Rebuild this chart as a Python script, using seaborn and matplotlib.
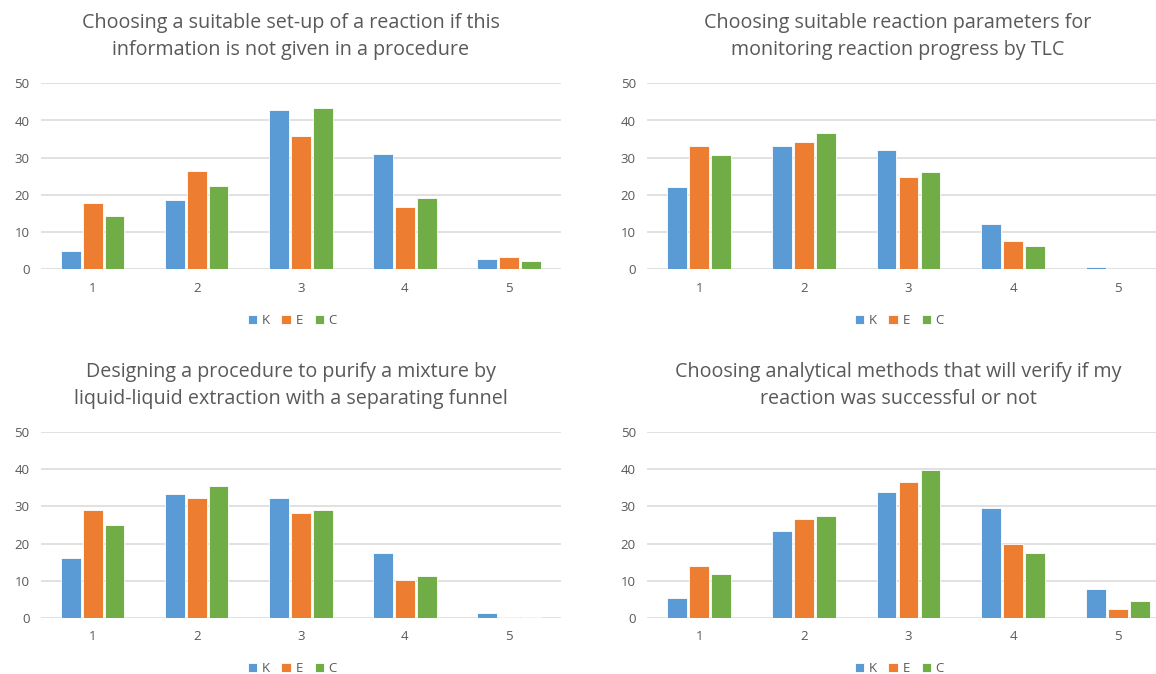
import matplotlib
matplotlib.use("Agg")
import matplotlib.pyplot as plt
import seaborn as sns
import pandas as pd

# Likert ratings 1-5 and the three student groups
ratings = ["1", "2", "3", "4", "5"]
groups = ["K", "E", "C"]

titles = [
    "Choosing a suitable set-up of a reaction if this\ninformation is not given in a procedure",
    "Choosing suitable reaction parameters for\nmonitoring reaction progress by TLC",
    "Designing a procedure to purify a mixture by\nliquid-liquid extraction with a separating funnel",
    "Choosing analytical methods that will verify if my\nreaction was successful or not",
]

# Percentages per rating for each group
setup_K = [5.0, 18.5, 42.8, 30.9, 2.9]
setup_E = [17.8, 26.4, 35.8, 16.8, 3.3]
setup_C = [14.3, 22.4, 43.3, 19.1, 2.2]

tlc_K = [22.2, 33.1, 32.1, 12.3, 0.6]
tlc_E = [33.2, 34.1, 24.9, 7.6, 0.2]
tlc_C = [30.7, 36.6, 26.2, 6.2, 0.2]

extraction_K = [16.0, 33.2, 32.2, 17.6, 1.25]
extraction_E = [28.9, 32.2, 28.2, 10.3, 0.27]
extraction_C = [24.9, 35.5, 29.1, 11.2, 0.36]

analysis_K = [5.4, 23.5, 33.9, 29.7, 7.9]
analysis_E = [14.1, 26.7, 36.6, 19.8, 2.5]
analysis_C = [11.8, 27.4, 39.9, 17.6, 4.6]

panels = [
    (setup_K, setup_E, setup_C),
    (tlc_K, tlc_E, tlc_C),
    (extraction_K, extraction_E, extraction_C),
    (analysis_K, analysis_E, analysis_C),
]

palette = {"K": "#5B9BD5", "E": "#ED7D31", "C": "#70AD47"}
text_gray = "#595959"
grid_gray = "#D9D9D9"

sns.set_theme(style="white")
plt.rcParams["font.family"] = ["Open Sans", "DejaVu Sans"]

W, H = 1156, 674
fig = plt.figure(figsize=(W / 100, H / 100), dpi=100)

# axes boxes in pixel units: (left, right, y of value 0, y of value 50)
boxes = [
    (40.7, 561.0, 269.3, 83.3),
    (647.0, 1170.0, 269.3, 83.3),
    (40.7, 561.0, 618.0, 432.0),
    (647.0, 1170.0, 618.0, 432.0),
]
title_centers = [(291, 36.5), (898, 36.5), (291, 385.5), (898, 385.5)]
legend_y = [320.5, 668.5]

for i, (vals, box, title) in enumerate(zip(panels, boxes, titles)):
    left, right, y0, y50 = box
    ax = fig.add_axes([left / W, 1 - y0 / H, (right - left) / W, (y0 - y50) / H])
    df = pd.DataFrame({
        "rating": ratings * 3,
        "group": [g for g in groups for _ in ratings],
        "value": list(vals[0]) + list(vals[1]) + list(vals[2]),
    })
    sns.barplot(data=df, x="rating", y="value", hue="group", order=ratings,
                hue_order=groups, palette=palette, width=0.63, gap=0.1,
                edgecolor="white", linewidth=0.6, saturation=1, ax=ax,
                errorbar=None)
    ax.set_ylim(0, 50)
    ax.set_xlim(-0.5, 4.5)
    ax.set_yticks([0, 10, 20, 30, 40, 50])
    ax.yaxis.grid(True, color=grid_gray, linewidth=1.1)
    ax.set_axisbelow(True)
    for s in ax.spines.values():
        s.set_visible(False)
    ax.tick_params(axis="both", length=0, colors=text_gray, labelsize=9.5)
    ax.tick_params(axis="x", pad=9)
    ax.tick_params(axis="y", pad=8)
    ax.set_xlabel("")
    ax.set_ylabel("")
    ax.get_legend().remove()

    handles, labels = ax.get_legend_handles_labels()
    cx, cy = title_centers[i]
    ly = legend_y[i // 2]
    fig.legend(handles, labels, loc="center", bbox_to_anchor=(cx / W + 0.001, 1 - ly / H),
               ncol=3, frameon=False, handlelength=0.75, handleheight=0.75,
               handletextpad=0.3, columnspacing=0.9, fontsize=9.5,
               labelcolor=text_gray, borderaxespad=0)
    fig.text(cx / W, 1 - cy / H, title, ha="center", va="center",
             fontsize=14.2, color=text_gray, linespacing=1.45)

fig.savefig("out.png", dpi=100)
